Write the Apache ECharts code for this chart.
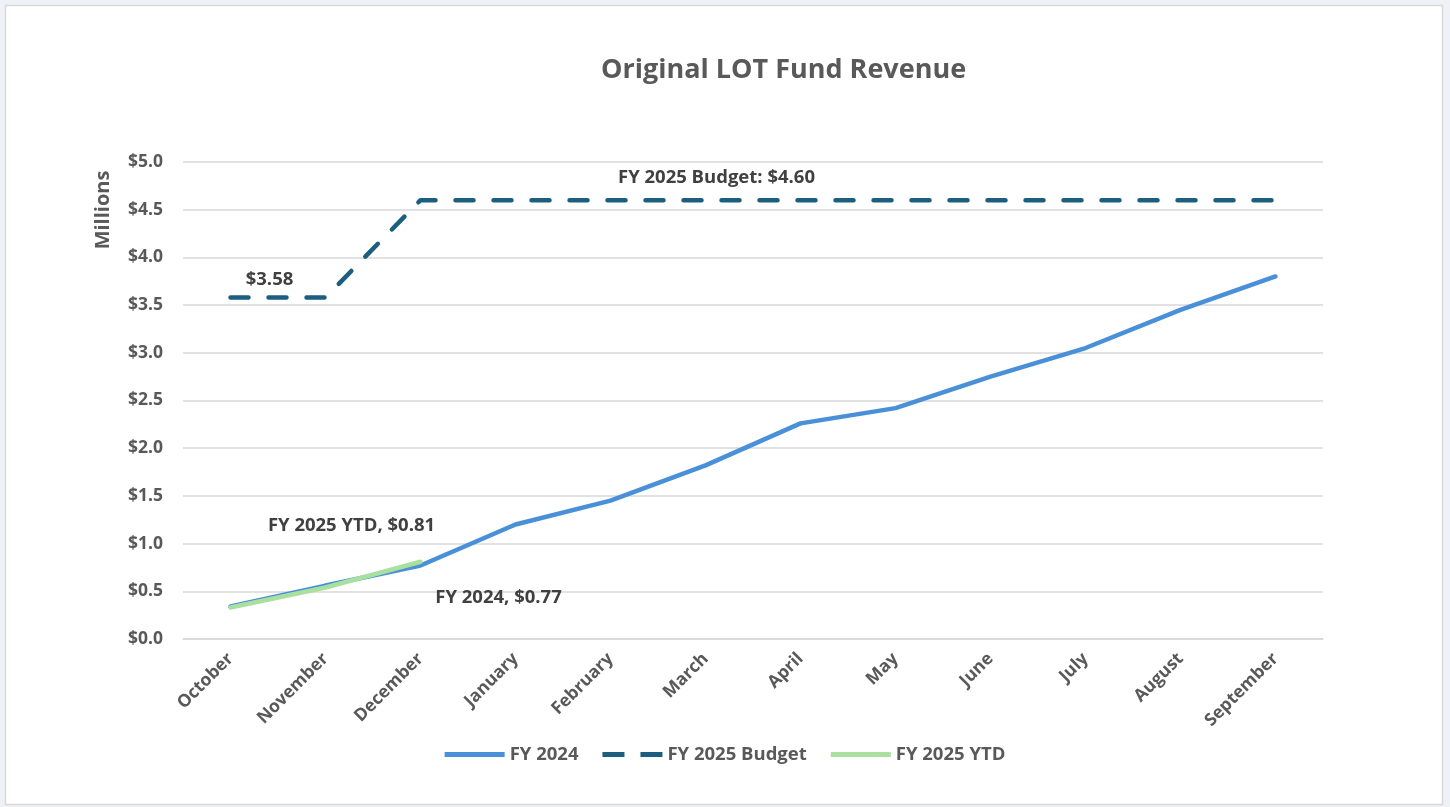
<!DOCTYPE html>
<html>
<head>
<meta charset="utf-8">
<script src="https://cdn.jsdelivr.net/npm/echarts@6/dist/echarts.min.js"></script>
<style>
html,body{margin:0;padding:0;background:#eef1f5;}
#chart{width:1450px;height:807px;}
</style>
</head>
<body>
<div id="chart"></div>
<script>
var months=['October','November','December','January','February','March','April','May','June','July','August','September'];
var fy2024=[0.34,0.56,0.77,1.20,1.45,1.82,2.26,2.42,2.75,3.05,3.45,3.80];
var budget=[3.58,3.58,4.60,4.60,4.60,4.60,4.60,4.60,4.60,4.60,4.60,4.60];
var ytd=[0.33,0.54,0.81];

var FONT='"Open Sans"';
var labelStyle={show:true,position:'top',distance:0,color:'#404040',fontFamily:FONT,fontWeight:'bold',fontSize:18.5};

// attach a label to one point of a series
function withLabel(arr,idx,text,offset){
	return arr.map(function(v,i){
		if(i!==idx) return v;
		return {value:v,label:Object.assign({},labelStyle,{formatter:text,offset:offset})};
	});
}

var chart=echarts.init(document.getElementById('chart'));
chart.setOption({
	backgroundColor:'#eef1f5',
	animation:false,
	graphic:[{
		type:'rect',z:-10,
		shape:{x:5.5,y:5.5,width:1437,height:799},
		style:{fill:'#ffffff',stroke:'#d9d9d9',lineWidth:1.5}
	},{
		type:'text',x:103,y:210,rotation:Math.PI/2,
		style:{text:'Millions',fill:'#595959',font:'bold 20px '+FONT,align:'center',verticalAlign:'middle'}
	}],
	title:{
		text:'Original LOT Fund Revenue',
		left:596,top:52,
		textStyle:{color:'#595959',fontFamily:FONT,fontWeight:'bold',fontSize:27}
	},
	legend:{
		left:'center',top:740,
		itemWidth:60,itemHeight:5,itemGap:24,
		textStyle:{color:'#595959',fontFamily:FONT,fontWeight:'bold',fontSize:18.5},
		data:[
			{name:'FY 2024',icon:'path://M0,0H60V5H0Z'},
			{name:'FY 2025 Budget',icon:'path://M0,0H22V5H0Z M38,0H60V5H38Z'},
			{name:'FY 2025 YTD',icon:'path://M0,0H60V5H0Z'}
		]
	},
	grid:{left:183,right:127,top:162,bottom:168},
	xAxis:{
		type:'category',data:months,boundaryGap:true,
		axisLine:{lineStyle:{color:'#d9d9d9',width:1.5}},
		axisTick:{show:false},
		axisLabel:{rotate:45,margin:17,color:'#595959',fontFamily:FONT,fontWeight:'bold',fontSize:17.5}
	},
	yAxis:{
		type:'value',min:0,max:5,interval:0.5,
		axisLine:{show:false},axisTick:{show:false},
		axisLabel:{margin:20,color:'#595959',fontFamily:FONT,fontWeight:'bold',fontSize:17.5,
			formatter:function(v){return '$'+v.toFixed(1);}},
		splitLine:{lineStyle:{color:'#d9d9d9',width:1.5}}
	},
	series:[{
		name:'FY 2024',type:'line',
		data:withLabel(fy2024,2,'FY 2024, $0.77',[78,42]),
		symbol:'circle',symbolSize:0,showSymbol:true,
		itemStyle:{color:'#4a90d9'},
		lineStyle:{color:'#4a90d9',width:4.5,cap:'round'},
		z:3
	},{
		name:'FY 2025 Budget',type:'line',
		data:withLabel(withLabel(budget,0,'$3.58',[39,-8]),5,'FY 2025 Budget: $4.60',[11,-13]),
		symbol:'circle',symbolSize:0,showSymbol:true,
		itemStyle:{color:'#1b5e80'},
		lineStyle:{color:'#1b5e80',width:4.5,type:[18,20],cap:'round'},
		z:2
	},{
		name:'FY 2025 YTD',type:'line',
		data:withLabel(ytd,2,'FY 2025 YTD, $0.81',[-69,-26]),
		symbol:'circle',symbolSize:0,showSymbol:true,
		itemStyle:{color:'#a9e09f'},
		lineStyle:{color:'#a9e09f',width:4.5,cap:'round'},
		z:4
	}]
});
</script>
</body>
</html>
